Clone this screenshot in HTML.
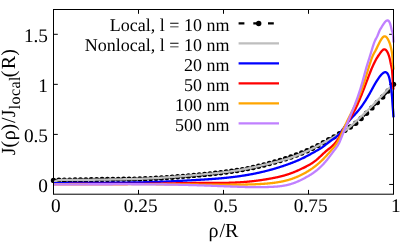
<!DOCTYPE html>
<html><head><meta charset="utf-8"><title>plot</title>
<style>
html,body{margin:0;padding:0;background:#fff;}
.t{font-family:"Liberation Serif",serif;text-rendering:geometricPrecision;}
body{width:407px;height:244px;overflow:hidden;position:relative;font-family:"Liberation Serif",serif;}
</style></head><body>
<svg width="407" height="244" viewBox="0 0 407 244" style="position:absolute;left:0;top:0;will-change:transform">
<rect x="0" y="0" width="407" height="244" fill="#fff"/>
<path d="M53.50,194.2 V189.89999999999998 M53.50,9.5 V13.8 M138.50,194.2 V189.89999999999998 M138.50,9.5 V13.8 M223.50,194.2 V189.89999999999998 M223.50,9.5 V13.8 M308.50,194.2 V189.89999999999998 M308.50,9.5 V13.8 M393.50,194.2 V189.89999999999998 M393.50,9.5 V13.8 M53.5,184.45 H57.8 M393.5,184.45 H389.2 M53.5,134.40 H57.8 M393.5,134.40 H389.2 M53.5,84.35 H57.8 M393.5,84.35 H389.2 M53.5,34.30 H57.8 M393.5,34.30 H389.2" stroke="#000" stroke-width="1" fill="none"/>
<path d="M53.50,180.40 L54.00,180.39 L54.50,180.37 L55.00,180.36 L55.50,180.34 L56.00,180.33 L56.50,180.32 L57.00,180.30 L57.50,180.29 L58.00,180.28 L58.50,180.26 L59.00,180.25 L59.50,180.24 L60.00,180.23 L60.50,180.22 L61.00,180.21 L61.50,180.20 L62.00,180.19 L62.50,180.18 L63.00,180.17 L63.50,180.16 L64.00,180.15 L64.50,180.14 L65.00,180.14 L65.50,180.13 L66.00,180.12 L66.50,180.12 L67.00,180.11 L67.50,180.11 L68.00,180.10 L68.50,180.10 L69.00,180.10 L69.50,180.09 L70.00,180.09 L70.50,180.09 L71.00,180.08 L71.50,180.08 L72.00,180.07 L72.50,180.07 L73.00,180.07 L73.50,180.06 L74.00,180.06 L74.50,180.05 L75.00,180.05 L75.50,180.04 L76.00,180.04 L76.50,180.03 L77.00,180.03 L77.50,180.02 L78.00,180.01 L78.50,180.01 L79.00,180.00 L79.50,179.99 L80.00,179.99 L80.50,179.98 L81.00,179.97 L81.50,179.96 L82.00,179.95 L82.50,179.94 L83.00,179.93 L83.50,179.93 L84.00,179.92 L84.50,179.91 L85.00,179.90 L85.50,179.89 L86.00,179.88 L86.50,179.87 L87.00,179.86 L87.50,179.85 L88.00,179.84 L88.50,179.83 L89.00,179.82 L89.50,179.81 L90.00,179.80 L90.50,179.79 L91.00,179.78 L91.50,179.76 L92.00,179.75 L92.50,179.74 L93.00,179.73 L93.50,179.72 L94.00,179.71 L94.50,179.70 L95.00,179.69 L95.50,179.68 L96.00,179.67 L96.50,179.66 L97.00,179.65 L97.50,179.64 L98.00,179.64 L98.50,179.63 L99.00,179.62 L99.50,179.61 L100.00,179.60 L100.50,179.59 L101.00,179.58 L101.50,179.58 L102.00,179.57 L102.50,179.56 L103.00,179.55 L103.50,179.55 L104.00,179.54 L104.50,179.53 L105.00,179.52 L105.50,179.52 L106.00,179.51 L106.50,179.50 L107.00,179.50 L107.50,179.49 L108.00,179.49 L108.50,179.48 L109.00,179.47 L109.50,179.47 L110.00,179.46 L110.50,179.46 L111.00,179.45 L111.50,179.44 L112.00,179.44 L112.50,179.43 L113.00,179.43 L113.50,179.42 L114.00,179.42 L114.50,179.41 L115.00,179.41 L115.50,179.40 L116.00,179.39 L116.50,179.39 L117.00,179.38 L117.50,179.38 L118.00,179.37 L118.50,179.37 L119.00,179.36 L119.50,179.36 L120.00,179.35 L120.50,179.34 L121.00,179.34 L121.50,179.33 L122.00,179.33 L122.50,179.32 L123.00,179.31 L123.50,179.31 L124.00,179.30 L124.50,179.29 L125.00,179.29 L125.50,179.28 L126.00,179.27 L126.50,179.26 L127.00,179.26 L127.50,179.25 L128.00,179.24 L128.50,179.23 L129.00,179.22 L129.50,179.22 L130.00,179.21 L130.50,179.20 L131.00,179.19 L131.50,179.18 L132.00,179.17 L132.50,179.16 L133.00,179.15 L133.50,179.14 L134.00,179.13 L134.50,179.12 L135.00,179.11 L135.50,179.10 L136.00,179.08 L136.50,179.07 L137.00,179.06 L137.50,179.05 L138.00,179.04 L138.50,179.02 L139.00,179.01 L139.50,178.99 L140.00,178.98 L140.50,178.97 L141.00,178.95 L141.50,178.94 L142.00,178.92 L142.50,178.90 L143.00,178.89 L143.50,178.87 L144.00,178.85 L144.50,178.84 L145.00,178.82 L145.50,178.80 L146.00,178.78 L146.50,178.76 L147.00,178.74 L147.50,178.72 L148.00,178.70 L148.50,178.68 L149.00,178.66 L149.50,178.64 L150.00,178.61 L150.50,178.59 L151.00,178.57 L151.50,178.54 L152.00,178.52 L152.50,178.49 L153.00,178.47 L153.50,178.44 L154.00,178.42 L154.50,178.39 L155.00,178.36 L155.50,178.34 L156.00,178.31 L156.50,178.28 L157.00,178.25 L157.50,178.22 L158.00,178.19 L158.50,178.17 L159.00,178.14 L159.50,178.10 L160.00,178.07 L160.50,178.04 L161.00,178.01 L161.50,177.98 L162.00,177.95 L162.50,177.92 L163.00,177.88 L163.50,177.85 L164.00,177.82 L164.50,177.78 L165.00,177.75 L165.50,177.71 L166.00,177.68 L166.50,177.65 L167.00,177.61 L167.50,177.57 L168.00,177.54 L168.50,177.50 L169.00,177.47 L169.50,177.43 L170.00,177.39 L170.50,177.36 L171.00,177.32 L171.50,177.28 L172.00,177.24 L172.50,177.20 L173.00,177.17 L173.50,177.13 L174.00,177.09 L174.50,177.05 L175.00,177.01 L175.50,176.97 L176.00,176.93 L176.50,176.89 L177.00,176.85 L177.50,176.81 L178.00,176.77 L178.50,176.73 L179.00,176.69 L179.50,176.64 L180.00,176.60 L180.50,176.56 L181.00,176.52 L181.50,176.48 L182.00,176.43 L182.50,176.39 L183.00,176.35 L183.50,176.31 L184.00,176.26 L184.50,176.22 L185.00,176.18 L185.50,176.13 L186.00,176.09 L186.50,176.05 L187.00,176.00 L187.50,175.96 L188.00,175.92 L188.50,175.87 L189.00,175.83 L189.50,175.78 L190.00,175.74 L190.50,175.69 L191.00,175.65 L191.50,175.61 L192.00,175.56 L192.50,175.52 L193.00,175.47 L193.50,175.43 L194.00,175.38 L194.50,175.34 L195.00,175.29 L195.50,175.25 L196.00,175.20 L196.50,175.15 L197.00,175.11 L197.50,175.06 L198.00,175.02 L198.50,174.97 L199.00,174.93 L199.50,174.88 L200.00,174.84 L200.50,174.79 L201.00,174.74 L201.50,174.70 L202.00,174.65 L202.50,174.60 L203.00,174.56 L203.50,174.51 L204.00,174.46 L204.50,174.42 L205.00,174.37 L205.50,174.32 L206.00,174.27 L206.50,174.23 L207.00,174.18 L207.50,174.13 L208.00,174.08 L208.50,174.03 L209.00,173.98 L209.50,173.93 L210.00,173.88 L210.50,173.83 L211.00,173.78 L211.50,173.73 L212.00,173.68 L212.50,173.63 L213.00,173.58 L213.50,173.52 L214.00,173.47 L214.50,173.42 L215.00,173.36 L215.50,173.31 L216.00,173.26 L216.50,173.20 L217.00,173.15 L217.50,173.09 L218.00,173.04 L218.50,172.98 L219.00,172.92 L219.50,172.86 L220.00,172.81 L220.50,172.75 L221.00,172.69 L221.50,172.63 L222.00,172.57 L222.50,172.51 L223.00,172.45 L223.50,172.39 L224.00,172.33 L224.50,172.27 L225.00,172.20 L225.50,172.14 L226.00,172.07 L226.50,172.01 L227.00,171.94 L227.50,171.88 L228.00,171.81 L228.50,171.74 L229.00,171.68 L229.50,171.61 L230.00,171.54 L230.50,171.47 L231.00,171.40 L231.50,171.33 L232.00,171.26 L232.50,171.18 L233.00,171.11 L233.50,171.04 L234.00,170.96 L234.50,170.89 L235.00,170.81 L235.50,170.73 L236.00,170.66 L236.50,170.58 L237.00,170.50 L237.50,170.42 L238.00,170.34 L238.50,170.25 L239.00,170.17 L239.50,170.09 L240.00,170.00 L240.50,169.92 L241.00,169.83 L241.50,169.75 L242.00,169.66 L242.50,169.57 L243.00,169.48 L243.50,169.39 L244.00,169.30 L244.50,169.21 L245.00,169.11 L245.50,169.02 L246.00,168.93 L246.50,168.83 L247.00,168.73 L247.50,168.64 L248.00,168.54 L248.50,168.44 L249.00,168.34 L249.50,168.24 L250.00,168.13 L250.50,168.03 L251.00,167.93 L251.50,167.82 L252.00,167.72 L252.50,167.61 L253.00,167.50 L253.50,167.39 L254.00,167.29 L254.50,167.18 L255.00,167.07 L255.50,166.95 L256.00,166.84 L256.50,166.73 L257.00,166.61 L257.50,166.50 L258.00,166.38 L258.50,166.27 L259.00,166.15 L259.50,166.03 L260.00,165.91 L260.50,165.79 L261.00,165.67 L261.50,165.55 L262.00,165.43 L262.50,165.30 L263.00,165.18 L263.50,165.06 L264.00,164.93 L264.50,164.80 L265.00,164.68 L265.50,164.55 L266.00,164.42 L266.50,164.29 L267.00,164.16 L267.50,164.03 L268.00,163.90 L268.50,163.77 L269.00,163.63 L269.50,163.50 L270.00,163.37 L270.50,163.23 L271.00,163.09 L271.50,162.96 L272.00,162.82 L272.50,162.68 L273.00,162.54 L273.50,162.40 L274.00,162.26 L274.50,162.12 L275.00,161.98 L275.50,161.83 L276.00,161.69 L276.50,161.54 L277.00,161.40 L277.50,161.25 L278.00,161.10 L278.50,160.96 L279.00,160.81 L279.50,160.66 L280.00,160.50 L280.50,160.35 L281.00,160.20 L281.50,160.05 L282.00,159.89 L282.50,159.74 L283.00,159.58 L283.50,159.42 L284.00,159.26 L284.50,159.10 L285.00,158.94 L285.50,158.78 L286.00,158.62 L286.50,158.46 L287.00,158.29 L287.50,158.13 L288.00,157.96 L288.50,157.80 L289.00,157.63 L289.50,157.46 L290.00,157.29 L290.50,157.12 L291.00,156.95 L291.50,156.77 L292.00,156.60 L292.50,156.43 L293.00,156.25 L293.50,156.07 L294.00,155.89 L294.50,155.71 L295.00,155.53 L295.50,155.35 L296.00,155.17 L296.50,154.99 L297.00,154.80 L297.50,154.61 L298.00,154.43 L298.50,154.24 L299.00,154.05 L299.50,153.86 L300.00,153.66 L300.50,153.47 L301.00,153.27 L301.50,153.08 L302.00,152.88 L302.50,152.68 L303.00,152.47 L303.50,152.27 L304.00,152.06 L304.50,151.86 L305.00,151.65 L305.50,151.44 L306.00,151.23 L306.50,151.01 L307.00,150.80 L307.50,150.58 L308.00,150.36 L308.50,150.14 L309.00,149.92 L309.50,149.70 L310.00,149.47 L310.50,149.24 L311.00,149.01 L311.50,148.78 L312.00,148.55 L312.50,148.31 L313.00,148.07 L313.50,147.83 L314.00,147.59 L314.50,147.35 L315.00,147.10 L315.50,146.85 L316.00,146.60 L316.50,146.35 L317.00,146.09 L317.50,145.83 L318.00,145.58 L318.50,145.32 L319.00,145.05 L319.50,144.79 L320.00,144.53 L320.50,144.26 L321.00,143.99 L321.50,143.72 L322.00,143.45 L322.50,143.18 L323.00,142.91 L323.50,142.64 L324.00,142.37 L324.50,142.10 L325.00,141.82 L325.50,141.55 L326.00,141.28 L326.50,141.00 L327.00,140.73 L327.50,140.46 L328.00,140.18 L328.50,139.91 L329.00,139.64 L329.50,139.36 L330.00,139.09 L330.50,138.82 L331.00,138.55 L331.50,138.28 L332.00,138.00 L332.50,137.73 L333.00,137.45 L333.50,137.18 L334.00,136.90 L334.50,136.62 L335.00,136.34 L335.50,136.06 L336.00,135.77 L336.50,135.49 L337.00,135.20 L337.50,134.90 L338.00,134.61 L338.50,134.31 L339.00,134.01 L339.50,133.70 L340.00,133.39 L340.50,133.08 L341.00,132.76 L341.50,132.45 L342.00,132.13 L342.50,131.81 L343.00,131.49 L343.50,131.18 L344.00,130.86 L344.50,130.55 L345.00,130.24 L345.50,129.93 L346.00,129.63 L346.50,129.32 L347.00,129.02 L347.50,128.72 L348.00,128.42 L348.50,128.12 L349.00,127.81 L349.50,127.50 L350.00,127.19 L350.50,126.87 L351.00,126.55 L351.50,126.22 L352.00,125.89 L352.50,125.55 L353.00,125.20 L353.50,124.85 L354.00,124.49 L354.50,124.12 L355.00,123.74 L355.50,123.36 L356.00,122.96 L356.50,122.56 L357.00,122.15 L357.50,121.73 L358.00,121.31 L358.50,120.88 L359.00,120.44 L359.50,119.99 L360.00,119.54 L360.50,119.08 L361.00,118.62 L361.50,118.16 L362.00,117.68 L362.50,117.21 L363.00,116.73 L363.50,116.25 L364.00,115.76 L364.50,115.27 L365.00,114.78 L365.50,114.29 L366.00,113.79 L366.50,113.30 L367.00,112.80 L367.50,112.30 L368.00,111.80 L368.50,111.30 L369.00,110.81 L369.50,110.31 L370.00,109.81 L370.50,109.31 L371.00,108.81 L371.50,108.31 L372.00,107.81 L372.50,107.31 L373.00,106.81 L373.50,106.31 L374.00,105.81 L374.50,105.31 L375.00,104.80 L375.50,104.30 L376.00,103.80 L376.50,103.30 L377.00,102.80 L377.50,102.30 L378.00,101.80 L378.50,101.30 L379.00,100.79 L379.50,100.29 L380.00,99.78 L380.50,99.28 L381.00,98.76 L381.50,98.25 L382.00,97.73 L382.50,97.21 L383.00,96.68 L383.50,96.15 L384.00,95.62 L384.50,95.07 L385.00,94.53 L385.50,93.98 L386.00,93.42 L386.50,92.85 L387.00,92.28 L387.50,91.70 L388.00,91.12 L388.50,90.53 L389.00,89.93 L389.50,89.32 L390.00,88.71 L390.50,88.10 L391.00,87.48 L391.50,86.86 L392.00,86.23 L392.50,85.61 L393.00,84.98 L393.50,84.35" fill="none" stroke="#000" stroke-width="2.3" stroke-dasharray="5.8 8.9"/>
<g fill="#000"><circle cx="53.50" cy="180.40" r="2.7"/><circle cx="58.90" cy="180.25" r="2.7"/><circle cx="64.29" cy="180.15" r="2.7"/><circle cx="69.69" cy="180.09" r="2.7"/><circle cx="75.09" cy="180.05" r="2.7"/><circle cx="80.48" cy="179.98" r="2.7"/><circle cx="85.88" cy="179.88" r="2.7"/><circle cx="91.28" cy="179.77" r="2.7"/><circle cx="96.67" cy="179.66" r="2.7"/><circle cx="102.07" cy="179.57" r="2.7"/><circle cx="107.47" cy="179.49" r="2.7"/><circle cx="112.87" cy="179.43" r="2.7"/><circle cx="118.26" cy="179.37" r="2.7"/><circle cx="123.66" cy="179.30" r="2.7"/><circle cx="129.06" cy="179.22" r="2.7"/><circle cx="134.45" cy="179.12" r="2.7"/><circle cx="139.85" cy="178.98" r="2.7"/><circle cx="145.25" cy="178.81" r="2.7"/><circle cx="150.64" cy="178.58" r="2.7"/><circle cx="156.04" cy="178.31" r="2.7"/><circle cx="161.44" cy="177.98" r="2.7"/><circle cx="166.83" cy="177.62" r="2.7"/><circle cx="172.23" cy="177.22" r="2.7"/><circle cx="177.63" cy="176.80" r="2.7"/><circle cx="183.02" cy="176.35" r="2.7"/><circle cx="188.42" cy="175.88" r="2.7"/><circle cx="193.82" cy="175.40" r="2.7"/><circle cx="199.21" cy="174.91" r="2.7"/><circle cx="204.61" cy="174.41" r="2.7"/><circle cx="210.01" cy="173.88" r="2.7"/><circle cx="215.40" cy="173.32" r="2.7"/><circle cx="220.80" cy="172.71" r="2.7"/><circle cx="226.20" cy="172.05" r="2.7"/><circle cx="231.60" cy="171.31" r="2.7"/><circle cx="236.99" cy="170.50" r="2.7"/><circle cx="242.39" cy="169.59" r="2.7"/><circle cx="247.79" cy="168.58" r="2.7"/><circle cx="253.18" cy="167.46" r="2.7"/><circle cx="258.58" cy="166.25" r="2.7"/><circle cx="263.98" cy="164.94" r="2.7"/><circle cx="269.37" cy="163.53" r="2.7"/><circle cx="274.77" cy="162.04" r="2.7"/><circle cx="280.17" cy="160.45" r="2.7"/><circle cx="285.56" cy="158.76" r="2.7"/><circle cx="290.96" cy="156.96" r="2.7"/><circle cx="296.36" cy="155.04" r="2.7"/><circle cx="301.75" cy="152.97" r="2.7"/><circle cx="307.15" cy="150.73" r="2.7"/><circle cx="312.55" cy="148.29" r="2.7"/><circle cx="317.94" cy="145.60" r="2.7"/><circle cx="323.34" cy="142.73" r="2.7"/><circle cx="328.74" cy="139.78" r="2.7"/><circle cx="334.13" cy="136.83" r="2.7"/><circle cx="339.53" cy="133.68" r="2.7"/><circle cx="344.93" cy="130.28" r="2.7"/><circle cx="350.33" cy="126.98" r="2.7"/><circle cx="355.72" cy="123.18" r="2.7"/><circle cx="361.12" cy="118.51" r="2.7"/><circle cx="366.52" cy="113.28" r="2.7"/><circle cx="371.91" cy="107.89" r="2.7"/><circle cx="377.31" cy="102.49" r="2.7"/><circle cx="382.71" cy="96.99" r="2.7"/><circle cx="388.10" cy="91.00" r="2.7"/><circle cx="393.50" cy="84.35" r="2.7"/></g>
<path d="M53.50,182.70 L54.00,182.29 L54.50,181.89 L55.00,181.52 L55.50,181.20 L56.00,180.93 L56.50,180.72 L57.00,180.54 L57.50,180.41 L58.00,180.30 L58.50,180.21 L59.00,180.15 L59.50,180.10 L60.00,180.06 L60.50,180.03 L61.00,180.00 L61.50,179.98 L62.00,179.96 L62.50,179.94 L63.00,179.92 L63.50,179.91 L64.00,179.90 L64.50,179.89 L65.00,179.88 L65.50,179.87 L66.00,179.87 L66.50,179.86 L67.00,179.86 L67.50,179.86 L68.00,179.86 L68.50,179.86 L69.00,179.86 L69.50,179.86 L70.00,179.86 L70.50,179.87 L71.00,179.87 L71.50,179.87 L72.00,179.88 L72.50,179.88 L73.00,179.89 L73.50,179.89 L74.00,179.89 L74.50,179.90 L75.00,179.90 L75.50,179.90 L76.00,179.90 L76.50,179.91 L77.00,179.91 L77.50,179.91 L78.00,179.91 L78.50,179.91 L79.00,179.91 L79.50,179.91 L80.00,179.91 L80.50,179.90 L81.00,179.90 L81.50,179.90 L82.00,179.90 L82.50,179.89 L83.00,179.89 L83.50,179.89 L84.00,179.88 L84.50,179.88 L85.00,179.87 L85.50,179.87 L86.00,179.86 L86.50,179.86 L87.00,179.85 L87.50,179.84 L88.00,179.84 L88.50,179.83 L89.00,179.82 L89.50,179.82 L90.00,179.81 L90.50,179.80 L91.00,179.80 L91.50,179.79 L92.00,179.78 L92.50,179.77 L93.00,179.76 L93.50,179.76 L94.00,179.75 L94.50,179.74 L95.00,179.73 L95.50,179.72 L96.00,179.72 L96.50,179.71 L97.00,179.70 L97.50,179.69 L98.00,179.68 L98.50,179.67 L99.00,179.67 L99.50,179.66 L100.00,179.65 L100.50,179.64 L101.00,179.63 L101.50,179.63 L102.00,179.62 L102.50,179.61 L103.00,179.60 L103.50,179.60 L104.00,179.59 L104.50,179.58 L105.00,179.57 L105.50,179.56 L106.00,179.56 L106.50,179.55 L107.00,179.54 L107.50,179.54 L108.00,179.53 L108.50,179.52 L109.00,179.51 L109.50,179.51 L110.00,179.50 L110.50,179.49 L111.00,179.48 L111.50,179.47 L112.00,179.47 L112.50,179.46 L113.00,179.45 L113.50,179.44 L114.00,179.44 L114.50,179.43 L115.00,179.42 L115.50,179.41 L116.00,179.40 L116.50,179.40 L117.00,179.39 L117.50,179.38 L118.00,179.37 L118.50,179.36 L119.00,179.35 L119.50,179.34 L120.00,179.34 L120.50,179.33 L121.00,179.32 L121.50,179.31 L122.00,179.30 L122.50,179.29 L123.00,179.28 L123.50,179.27 L124.00,179.26 L124.50,179.25 L125.00,179.24 L125.50,179.23 L126.00,179.22 L126.50,179.21 L127.00,179.20 L127.50,179.18 L128.00,179.17 L128.50,179.16 L129.00,179.15 L129.50,179.14 L130.00,179.13 L130.50,179.11 L131.00,179.10 L131.50,179.09 L132.00,179.07 L132.50,179.06 L133.00,179.05 L133.50,179.03 L134.00,179.02 L134.50,179.00 L135.00,178.99 L135.50,178.98 L136.00,178.96 L136.50,178.94 L137.00,178.93 L137.50,178.91 L138.00,178.90 L138.50,178.88 L139.00,178.86 L139.50,178.85 L140.00,178.83 L140.50,178.81 L141.00,178.79 L141.50,178.77 L142.00,178.75 L142.50,178.73 L143.00,178.72 L143.50,178.70 L144.00,178.68 L144.50,178.65 L145.00,178.63 L145.50,178.61 L146.00,178.59 L146.50,178.57 L147.00,178.55 L147.50,178.52 L148.00,178.50 L148.50,178.48 L149.00,178.45 L149.50,178.43 L150.00,178.40 L150.50,178.38 L151.00,178.35 L151.50,178.33 L152.00,178.30 L152.50,178.27 L153.00,178.25 L153.50,178.22 L154.00,178.19 L154.50,178.16 L155.00,178.13 L155.50,178.11 L156.00,178.08 L156.50,178.05 L157.00,178.02 L157.50,177.99 L158.00,177.96 L158.50,177.93 L159.00,177.90 L159.50,177.86 L160.00,177.83 L160.50,177.80 L161.00,177.77 L161.50,177.74 L162.00,177.70 L162.50,177.67 L163.00,177.64 L163.50,177.60 L164.00,177.57 L164.50,177.53 L165.00,177.50 L165.50,177.47 L166.00,177.43 L166.50,177.40 L167.00,177.36 L167.50,177.32 L168.00,177.29 L168.50,177.25 L169.00,177.21 L169.50,177.18 L170.00,177.14 L170.50,177.10 L171.00,177.07 L171.50,177.03 L172.00,176.99 L172.50,176.95 L173.00,176.91 L173.50,176.88 L174.00,176.84 L174.50,176.80 L175.00,176.76 L175.50,176.72 L176.00,176.68 L176.50,176.64 L177.00,176.60 L177.50,176.56 L178.00,176.52 L178.50,176.48 L179.00,176.44 L179.50,176.40 L180.00,176.36 L180.50,176.32 L181.00,176.28 L181.50,176.24 L182.00,176.20 L182.50,176.15 L183.00,176.11 L183.50,176.07 L184.00,176.03 L184.50,175.99 L185.00,175.95 L185.50,175.90 L186.00,175.86 L186.50,175.82 L187.00,175.78 L187.50,175.73 L188.00,175.69 L188.50,175.65 L189.00,175.61 L189.50,175.56 L190.00,175.52 L190.50,175.48 L191.00,175.43 L191.50,175.39 L192.00,175.35 L192.50,175.30 L193.00,175.26 L193.50,175.22 L194.00,175.17 L194.50,175.13 L195.00,175.09 L195.50,175.04 L196.00,175.00 L196.50,174.96 L197.00,174.91 L197.50,174.87 L198.00,174.83 L198.50,174.78 L199.00,174.74 L199.50,174.69 L200.00,174.65 L200.50,174.61 L201.00,174.56 L201.50,174.52 L202.00,174.47 L202.50,174.43 L203.00,174.38 L203.50,174.34 L204.00,174.29 L204.50,174.25 L205.00,174.20 L205.50,174.16 L206.00,174.11 L206.50,174.06 L207.00,174.02 L207.50,173.97 L208.00,173.92 L208.50,173.88 L209.00,173.83 L209.50,173.78 L210.00,173.73 L210.50,173.69 L211.00,173.64 L211.50,173.59 L212.00,173.54 L212.50,173.49 L213.00,173.44 L213.50,173.39 L214.00,173.34 L214.50,173.29 L215.00,173.23 L215.50,173.18 L216.00,173.13 L216.50,173.08 L217.00,173.02 L217.50,172.97 L218.00,172.92 L218.50,172.86 L219.00,172.81 L219.50,172.75 L220.00,172.69 L220.50,172.64 L221.00,172.58 L221.50,172.52 L222.00,172.46 L222.50,172.41 L223.00,172.35 L223.50,172.29 L224.00,172.22 L224.50,172.16 L225.00,172.10 L225.50,172.04 L226.00,171.98 L226.50,171.91 L227.00,171.85 L227.50,171.78 L228.00,171.72 L228.50,171.65 L229.00,171.58 L229.50,171.52 L230.00,171.45 L230.50,171.38 L231.00,171.31 L231.50,171.24 L232.00,171.17 L232.50,171.09 L233.00,171.02 L233.50,170.95 L234.00,170.87 L234.50,170.80 L235.00,170.72 L235.50,170.64 L236.00,170.57 L236.50,170.49 L237.00,170.41 L237.50,170.33 L238.00,170.25 L238.50,170.16 L239.00,170.08 L239.50,170.00 L240.00,169.91 L240.50,169.83 L241.00,169.74 L241.50,169.65 L242.00,169.56 L242.50,169.47 L243.00,169.38 L243.50,169.29 L244.00,169.20 L244.50,169.11 L245.00,169.01 L245.50,168.92 L246.00,168.82 L246.50,168.72 L247.00,168.62 L247.50,168.53 L248.00,168.42 L248.50,168.32 L249.00,168.22 L249.50,168.12 L250.00,168.02 L250.50,167.91 L251.00,167.81 L251.50,167.70 L252.00,167.59 L252.50,167.49 L253.00,167.38 L253.50,167.27 L254.00,167.16 L254.50,167.05 L255.00,166.94 L255.50,166.83 L256.00,166.72 L256.50,166.61 L257.00,166.49 L257.50,166.38 L258.00,166.26 L258.50,166.15 L259.00,166.03 L259.50,165.92 L260.00,165.80 L260.50,165.69 L261.00,165.57 L261.50,165.45 L262.00,165.34 L262.50,165.22 L263.00,165.10 L263.50,164.98 L264.00,164.86 L264.50,164.74 L265.00,164.62 L265.50,164.50 L266.00,164.38 L266.50,164.26 L267.00,164.14 L267.50,164.02 L268.00,163.90 L268.50,163.78 L269.00,163.66 L269.50,163.54 L270.00,163.41 L270.50,163.29 L271.00,163.17 L271.50,163.05 L272.00,162.92 L272.50,162.80 L273.00,162.68 L273.50,162.55 L274.00,162.43 L274.50,162.30 L275.00,162.17 L275.50,162.05 L276.00,161.92 L276.50,161.79 L277.00,161.66 L277.50,161.53 L278.00,161.40 L278.50,161.27 L279.00,161.13 L279.50,161.00 L280.00,160.86 L280.50,160.73 L281.00,160.59 L281.50,160.45 L282.00,160.31 L282.50,160.17 L283.00,160.03 L283.50,159.88 L284.00,159.74 L284.50,159.59 L285.00,159.44 L285.50,159.29 L286.00,159.14 L286.50,158.99 L287.00,158.84 L287.50,158.68 L288.00,158.52 L288.50,158.36 L289.00,158.20 L289.50,158.04 L290.00,157.88 L290.50,157.71 L291.00,157.54 L291.50,157.37 L292.00,157.20 L292.50,157.03 L293.00,156.85 L293.50,156.67 L294.00,156.49 L294.50,156.31 L295.00,156.13 L295.50,155.94 L296.00,155.75 L296.50,155.56 L297.00,155.37 L297.50,155.18 L298.00,154.98 L298.50,154.78 L299.00,154.59 L299.50,154.38 L300.00,154.18 L300.50,153.98 L301.00,153.77 L301.50,153.56 L302.00,153.35 L302.50,153.14 L303.00,152.93 L303.50,152.71 L304.00,152.49 L304.50,152.28 L305.00,152.05 L305.50,151.83 L306.00,151.61 L306.50,151.38 L307.00,151.16 L307.50,150.93 L308.00,150.70 L308.50,150.46 L309.00,150.23 L309.50,150.00 L310.00,149.76 L310.50,149.52 L311.00,149.28 L311.50,149.04 L312.00,148.80 L312.50,148.55 L313.00,148.30 L313.50,148.06 L314.00,147.81 L314.50,147.56 L315.00,147.30 L315.50,147.05 L316.00,146.80 L316.50,146.54 L317.00,146.28 L317.50,146.02 L318.00,145.76 L318.50,145.50 L319.00,145.24 L319.50,144.97 L320.00,144.71 L320.50,144.44 L321.00,144.18 L321.50,143.91 L322.00,143.64 L322.50,143.37 L323.00,143.10 L323.50,142.83 L324.00,142.56 L324.50,142.29 L325.00,142.02 L325.50,141.75 L326.00,141.48 L326.50,141.20 L327.00,140.93 L327.50,140.66 L328.00,140.38 L328.50,140.11 L329.00,139.84 L329.50,139.56 L330.00,139.29 L330.50,139.02 L331.00,138.74 L331.50,138.47 L332.00,138.19 L332.50,137.92 L333.00,137.64 L333.50,137.37 L334.00,137.09 L334.50,136.81 L335.00,136.54 L335.50,136.26 L336.00,135.98 L336.50,135.70 L337.00,135.42 L337.50,135.14 L338.00,134.85 L338.50,134.57 L339.00,134.29 L339.50,134.00 L340.00,133.71 L340.50,133.42 L341.00,133.13 L341.50,132.84 L342.00,132.54 L342.50,132.23 L343.00,131.92 L343.50,131.60 L344.00,131.28 L344.50,130.94 L345.00,130.60 L345.50,130.25 L346.00,129.89 L346.50,129.51 L347.00,129.13 L347.50,128.75 L348.00,128.35 L348.50,127.95 L349.00,127.54 L349.50,127.12 L350.00,126.70 L350.50,126.27 L351.00,125.84 L351.50,125.40 L352.00,124.96 L352.50,124.52 L353.00,124.07 L353.50,123.62 L354.00,123.16 L354.50,122.71 L355.00,122.25 L355.50,121.79 L356.00,121.33 L356.50,120.87 L357.00,120.41 L357.50,119.95 L358.00,119.49 L358.50,119.03 L359.00,118.56 L359.50,118.10 L360.00,117.64 L360.50,117.17 L361.00,116.70 L361.50,116.23 L362.00,115.76 L362.50,115.29 L363.00,114.82 L363.50,114.35 L364.00,113.87 L364.50,113.40 L365.00,112.92 L365.50,112.44 L366.00,111.96 L366.50,111.47 L367.00,110.99 L367.50,110.50 L368.00,110.01 L368.50,109.52 L369.00,109.03 L369.50,108.53 L370.00,108.04 L370.50,107.53 L371.00,107.03 L371.50,106.52 L372.00,106.00 L372.50,105.48 L373.00,104.96 L373.50,104.44 L374.00,103.91 L374.50,103.39 L375.00,102.86 L375.50,102.34 L376.00,101.82 L376.50,101.31 L377.00,100.80 L377.50,100.30 L378.00,99.80 L378.50,99.31 L379.00,98.81 L379.50,98.31 L380.00,97.81 L380.50,97.30 L381.00,96.79 L381.50,96.26 L382.00,95.73 L382.50,95.19 L383.00,94.66 L383.50,94.12 L384.00,93.59 L384.50,93.06 L385.00,92.53 L385.50,91.99 L386.00,91.46 L386.50,90.92 L387.00,90.37 L387.50,89.83 L388.00,89.30 L388.50,88.81 L389.00,88.36 L389.50,87.94 L390.00,87.55 L390.50,87.39 L391.00,87.95 L391.50,90.21 L392.00,95.42 L392.50,102.45 L393.00,109.71 L393.50,117.00" fill="none" stroke="#bebebe" stroke-width="2.3" stroke-linejoin="round" stroke-linecap="butt"/>
<path d="M53.50,183.05 L54.00,183.05 L54.50,183.05 L55.00,183.05 L55.50,183.05 L56.00,183.05 L56.50,183.05 L57.00,183.04 L57.50,183.04 L58.00,183.04 L58.50,183.04 L59.00,183.04 L59.50,183.04 L60.00,183.04 L60.50,183.04 L61.00,183.04 L61.50,183.04 L62.00,183.04 L62.50,183.04 L63.00,183.03 L63.50,183.03 L64.00,183.03 L64.50,183.03 L65.00,183.03 L65.50,183.03 L66.00,183.03 L66.50,183.03 L67.00,183.03 L67.50,183.02 L68.00,183.02 L68.50,183.02 L69.00,183.02 L69.50,183.02 L70.00,183.02 L70.50,183.02 L71.00,183.01 L71.50,183.01 L72.00,183.01 L72.50,183.01 L73.00,183.01 L73.50,183.01 L74.00,183.00 L74.50,183.00 L75.00,183.00 L75.50,183.00 L76.00,183.00 L76.50,182.99 L77.00,182.99 L77.50,182.99 L78.00,182.99 L78.50,182.98 L79.00,182.98 L79.50,182.98 L80.00,182.98 L80.50,182.98 L81.00,182.97 L81.50,182.97 L82.00,182.97 L82.50,182.96 L83.00,182.96 L83.50,182.96 L84.00,182.96 L84.50,182.95 L85.00,182.95 L85.50,182.95 L86.00,182.94 L86.50,182.94 L87.00,182.94 L87.50,182.94 L88.00,182.93 L88.50,182.93 L89.00,182.93 L89.50,182.92 L90.00,182.92 L90.50,182.92 L91.00,182.91 L91.50,182.91 L92.00,182.91 L92.50,182.90 L93.00,182.90 L93.50,182.90 L94.00,182.89 L94.50,182.89 L95.00,182.89 L95.50,182.88 L96.00,182.88 L96.50,182.88 L97.00,182.87 L97.50,182.87 L98.00,182.86 L98.50,182.86 L99.00,182.86 L99.50,182.85 L100.00,182.85 L100.50,182.85 L101.00,182.84 L101.50,182.84 L102.00,182.84 L102.50,182.83 L103.00,182.83 L103.50,182.82 L104.00,182.82 L104.50,182.82 L105.00,182.81 L105.50,182.81 L106.00,182.81 L106.50,182.80 L107.00,182.80 L107.50,182.79 L108.00,182.79 L108.50,182.79 L109.00,182.78 L109.50,182.78 L110.00,182.77 L110.50,182.77 L111.00,182.76 L111.50,182.76 L112.00,182.76 L112.50,182.75 L113.00,182.75 L113.50,182.74 L114.00,182.74 L114.50,182.73 L115.00,182.73 L115.50,182.72 L116.00,182.72 L116.50,182.71 L117.00,182.71 L117.50,182.70 L118.00,182.70 L118.50,182.69 L119.00,182.69 L119.50,182.68 L120.00,182.68 L120.50,182.67 L121.00,182.66 L121.50,182.66 L122.00,182.65 L122.50,182.65 L123.00,182.64 L123.50,182.63 L124.00,182.63 L124.50,182.62 L125.00,182.61 L125.50,182.61 L126.00,182.60 L126.50,182.59 L127.00,182.59 L127.50,182.58 L128.00,182.57 L128.50,182.56 L129.00,182.56 L129.50,182.55 L130.00,182.54 L130.50,182.53 L131.00,182.52 L131.50,182.52 L132.00,182.51 L132.50,182.50 L133.00,182.49 L133.50,182.48 L134.00,182.47 L134.50,182.46 L135.00,182.45 L135.50,182.44 L136.00,182.44 L136.50,182.43 L137.00,182.42 L137.50,182.41 L138.00,182.39 L138.50,182.38 L139.00,182.37 L139.50,182.36 L140.00,182.35 L140.50,182.34 L141.00,182.33 L141.50,182.32 L142.00,182.31 L142.50,182.29 L143.00,182.28 L143.50,182.27 L144.00,182.26 L144.50,182.24 L145.00,182.23 L145.50,182.22 L146.00,182.21 L146.50,182.19 L147.00,182.18 L147.50,182.16 L148.00,182.15 L148.50,182.14 L149.00,182.12 L149.50,182.11 L150.00,182.09 L150.50,182.08 L151.00,182.06 L151.50,182.05 L152.00,182.03 L152.50,182.01 L153.00,182.00 L153.50,181.98 L154.00,181.96 L154.50,181.95 L155.00,181.93 L155.50,181.91 L156.00,181.90 L156.50,181.88 L157.00,181.86 L157.50,181.84 L158.00,181.82 L158.50,181.81 L159.00,181.79 L159.50,181.77 L160.00,181.75 L160.50,181.73 L161.00,181.71 L161.50,181.69 L162.00,181.67 L162.50,181.65 L163.00,181.63 L163.50,181.61 L164.00,181.59 L164.50,181.57 L165.00,181.55 L165.50,181.53 L166.00,181.51 L166.50,181.49 L167.00,181.47 L167.50,181.45 L168.00,181.43 L168.50,181.40 L169.00,181.38 L169.50,181.36 L170.00,181.34 L170.50,181.32 L171.00,181.29 L171.50,181.27 L172.00,181.25 L172.50,181.22 L173.00,181.20 L173.50,181.18 L174.00,181.15 L174.50,181.13 L175.00,181.11 L175.50,181.08 L176.00,181.06 L176.50,181.04 L177.00,181.01 L177.50,180.99 L178.00,180.96 L178.50,180.94 L179.00,180.91 L179.50,180.89 L180.00,180.86 L180.50,180.84 L181.00,180.81 L181.50,180.79 L182.00,180.76 L182.50,180.74 L183.00,180.71 L183.50,180.68 L184.00,180.66 L184.50,180.63 L185.00,180.61 L185.50,180.58 L186.00,180.55 L186.50,180.53 L187.00,180.50 L187.50,180.47 L188.00,180.45 L188.50,180.42 L189.00,180.39 L189.50,180.36 L190.00,180.34 L190.50,180.31 L191.00,180.28 L191.50,180.25 L192.00,180.23 L192.50,180.20 L193.00,180.17 L193.50,180.14 L194.00,180.11 L194.50,180.09 L195.00,180.06 L195.50,180.03 L196.00,180.00 L196.50,179.97 L197.00,179.94 L197.50,179.91 L198.00,179.88 L198.50,179.86 L199.00,179.83 L199.50,179.80 L200.00,179.77 L200.50,179.74 L201.00,179.71 L201.50,179.68 L202.00,179.65 L202.50,179.62 L203.00,179.59 L203.50,179.56 L204.00,179.53 L204.50,179.49 L205.00,179.46 L205.50,179.43 L206.00,179.40 L206.50,179.37 L207.00,179.33 L207.50,179.30 L208.00,179.27 L208.50,179.23 L209.00,179.20 L209.50,179.17 L210.00,179.13 L210.50,179.10 L211.00,179.06 L211.50,179.03 L212.00,178.99 L212.50,178.95 L213.00,178.92 L213.50,178.88 L214.00,178.84 L214.50,178.81 L215.00,178.77 L215.50,178.73 L216.00,178.69 L216.50,178.65 L217.00,178.61 L217.50,178.57 L218.00,178.53 L218.50,178.49 L219.00,178.44 L219.50,178.40 L220.00,178.36 L220.50,178.32 L221.00,178.27 L221.50,178.23 L222.00,178.18 L222.50,178.14 L223.00,178.09 L223.50,178.04 L224.00,177.99 L224.50,177.95 L225.00,177.90 L225.50,177.85 L226.00,177.80 L226.50,177.75 L227.00,177.70 L227.50,177.64 L228.00,177.59 L228.50,177.54 L229.00,177.48 L229.50,177.43 L230.00,177.37 L230.50,177.32 L231.00,177.26 L231.50,177.20 L232.00,177.15 L232.50,177.09 L233.00,177.03 L233.50,176.97 L234.00,176.90 L234.50,176.84 L235.00,176.78 L235.50,176.72 L236.00,176.65 L236.50,176.59 L237.00,176.52 L237.50,176.45 L238.00,176.38 L238.50,176.32 L239.00,176.25 L239.50,176.18 L240.00,176.10 L240.50,176.03 L241.00,175.96 L241.50,175.88 L242.00,175.81 L242.50,175.73 L243.00,175.66 L243.50,175.58 L244.00,175.50 L244.50,175.42 L245.00,175.34 L245.50,175.26 L246.00,175.17 L246.50,175.09 L247.00,175.01 L247.50,174.92 L248.00,174.83 L248.50,174.75 L249.00,174.66 L249.50,174.57 L250.00,174.48 L250.50,174.39 L251.00,174.29 L251.50,174.20 L252.00,174.10 L252.50,174.01 L253.00,173.91 L253.50,173.81 L254.00,173.71 L254.50,173.61 L255.00,173.51 L255.50,173.41 L256.00,173.31 L256.50,173.20 L257.00,173.10 L257.50,172.99 L258.00,172.88 L258.50,172.78 L259.00,172.67 L259.50,172.55 L260.00,172.44 L260.50,172.33 L261.00,172.22 L261.50,172.10 L262.00,171.98 L262.50,171.87 L263.00,171.75 L263.50,171.63 L264.00,171.51 L264.50,171.39 L265.00,171.26 L265.50,171.14 L266.00,171.01 L266.50,170.89 L267.00,170.76 L267.50,170.63 L268.00,170.50 L268.50,170.37 L269.00,170.24 L269.50,170.10 L270.00,169.97 L270.50,169.83 L271.00,169.70 L271.50,169.56 L272.00,169.42 L272.50,169.28 L273.00,169.13 L273.50,168.99 L274.00,168.85 L274.50,168.70 L275.00,168.55 L275.50,168.41 L276.00,168.26 L276.50,168.11 L277.00,167.96 L277.50,167.80 L278.00,167.65 L278.50,167.49 L279.00,167.34 L279.50,167.18 L280.00,167.02 L280.50,166.86 L281.00,166.70 L281.50,166.53 L282.00,166.37 L282.50,166.20 L283.00,166.04 L283.50,165.87 L284.00,165.70 L284.50,165.53 L285.00,165.35 L285.50,165.18 L286.00,165.01 L286.50,164.83 L287.00,164.65 L287.50,164.47 L288.00,164.29 L288.50,164.11 L289.00,163.93 L289.50,163.74 L290.00,163.56 L290.50,163.37 L291.00,163.18 L291.50,162.99 L292.00,162.80 L292.50,162.61 L293.00,162.41 L293.50,162.22 L294.00,162.02 L294.50,161.82 L295.00,161.62 L295.50,161.42 L296.00,161.21 L296.50,161.01 L297.00,160.80 L297.50,160.59 L298.00,160.37 L298.50,160.16 L299.00,159.94 L299.50,159.72 L300.00,159.49 L300.50,159.27 L301.00,159.04 L301.50,158.81 L302.00,158.57 L302.50,158.33 L303.00,158.09 L303.50,157.85 L304.00,157.60 L304.50,157.35 L305.00,157.10 L305.50,156.84 L306.00,156.58 L306.50,156.32 L307.00,156.05 L307.50,155.79 L308.00,155.52 L308.50,155.25 L309.00,154.97 L309.50,154.70 L310.00,154.42 L310.50,154.15 L311.00,153.87 L311.50,153.59 L312.00,153.31 L312.50,153.03 L313.00,152.75 L313.50,152.47 L314.00,152.19 L314.50,151.91 L315.00,151.63 L315.50,151.36 L316.00,151.08 L316.50,150.80 L317.00,150.52 L317.50,150.24 L318.00,149.95 L318.50,149.67 L319.00,149.37 L319.50,149.07 L320.00,148.77 L320.50,148.45 L321.00,148.13 L321.50,147.80 L322.00,147.46 L322.50,147.11 L323.00,146.74 L323.50,146.38 L324.00,146.00 L324.50,145.62 L325.00,145.23 L325.50,144.85 L326.00,144.45 L326.50,144.06 L327.00,143.67 L327.50,143.28 L328.00,142.88 L328.50,142.50 L329.00,142.11 L329.50,141.73 L330.00,141.36 L330.50,140.99 L331.00,140.63 L331.50,140.28 L332.00,139.93 L332.50,139.59 L333.00,139.24 L333.50,138.90 L334.00,138.55 L334.50,138.19 L335.00,137.82 L335.50,137.44 L336.00,137.05 L336.50,136.64 L337.00,136.20 L337.50,135.75 L338.00,135.27 L338.50,134.76 L339.00,134.22 L339.50,133.65 L340.00,133.05 L340.50,132.42 L341.00,131.77 L341.50,131.10 L342.00,130.42 L342.50,129.72 L343.00,129.02 L343.50,128.32 L344.00,127.62 L344.50,126.93 L345.00,126.24 L345.50,125.56 L346.00,124.88 L346.50,124.22 L347.00,123.56 L347.50,122.92 L348.00,122.28 L348.50,121.65 L349.00,121.04 L349.50,120.44 L350.00,119.85 L350.50,119.27 L351.00,118.71 L351.50,118.15 L352.00,117.60 L352.50,117.05 L353.00,116.51 L353.50,115.97 L354.00,115.44 L354.50,114.90 L355.00,114.36 L355.50,113.81 L356.00,113.26 L356.50,112.70 L357.00,112.13 L357.50,111.55 L358.00,110.97 L358.50,110.37 L359.00,109.76 L359.50,109.14 L360.00,108.51 L360.50,107.86 L361.00,107.20 L361.50,106.52 L362.00,105.83 L362.50,105.12 L363.00,104.40 L363.50,103.66 L364.00,102.91 L364.50,102.15 L365.00,101.37 L365.50,100.59 L366.00,99.78 L366.50,98.97 L367.00,98.14 L367.50,97.30 L368.00,96.46 L368.50,95.60 L369.00,94.73 L369.50,93.84 L370.00,92.95 L370.50,92.05 L371.00,91.14 L371.50,90.23 L372.00,89.30 L372.50,88.37 L373.00,87.43 L373.50,86.51 L374.00,85.60 L374.50,84.72 L375.00,83.85 L375.50,83.01 L376.00,82.20 L376.50,81.39 L377.00,80.61 L377.50,79.84 L378.00,79.09 L378.50,78.35 L379.00,77.64 L379.50,76.95 L380.00,76.29 L380.50,75.66 L381.00,75.07 L381.50,74.51 L382.00,73.99 L382.50,73.53 L383.00,73.13 L383.50,72.79 L384.00,72.52 L384.50,72.33 L385.00,72.22 L385.50,72.21 L386.00,72.30 L386.50,72.53 L387.00,72.94 L387.50,73.55 L388.00,74.39 L388.50,75.50 L389.00,76.95 L389.50,78.81 L390.00,81.18 L390.50,83.94 L391.00,86.90 L391.50,90.68 L392.00,96.05 L392.50,102.60 L393.00,109.80 L393.50,117.30" fill="none" stroke="#0000ff" stroke-width="2.3" stroke-linejoin="round" stroke-linecap="butt"/>
<path d="M53.50,184.05 L54.00,184.05 L54.50,184.05 L55.00,184.05 L55.50,184.05 L56.00,184.05 L56.50,184.05 L57.00,184.04 L57.50,184.04 L58.00,184.04 L58.50,184.04 L59.00,184.04 L59.50,184.04 L60.00,184.04 L60.50,184.04 L61.00,184.04 L61.50,184.04 L62.00,184.04 L62.50,184.04 L63.00,184.03 L63.50,184.03 L64.00,184.03 L64.50,184.03 L65.00,184.03 L65.50,184.03 L66.00,184.03 L66.50,184.03 L67.00,184.03 L67.50,184.03 L68.00,184.03 L68.50,184.03 L69.00,184.03 L69.50,184.02 L70.00,184.02 L70.50,184.02 L71.00,184.02 L71.50,184.02 L72.00,184.02 L72.50,184.02 L73.00,184.02 L73.50,184.02 L74.00,184.02 L74.50,184.02 L75.00,184.02 L75.50,184.02 L76.00,184.02 L76.50,184.02 L77.00,184.01 L77.50,184.01 L78.00,184.01 L78.50,184.01 L79.00,184.01 L79.50,184.01 L80.00,184.01 L80.50,184.01 L81.00,184.01 L81.50,184.01 L82.00,184.01 L82.50,184.01 L83.00,184.01 L83.50,184.01 L84.00,184.01 L84.50,184.01 L85.00,184.01 L85.50,184.01 L86.00,184.01 L86.50,184.01 L87.00,184.00 L87.50,184.00 L88.00,184.00 L88.50,184.00 L89.00,184.00 L89.50,184.00 L90.00,184.00 L90.50,184.00 L91.00,184.00 L91.50,184.00 L92.00,184.00 L92.50,184.00 L93.00,184.00 L93.50,184.00 L94.00,184.00 L94.50,184.00 L95.00,184.00 L95.50,184.00 L96.00,184.00 L96.50,184.00 L97.00,184.00 L97.50,184.00 L98.00,184.00 L98.50,184.00 L99.00,184.00 L99.50,184.00 L100.00,184.00 L100.50,184.00 L101.00,184.00 L101.50,184.00 L102.00,184.00 L102.50,184.00 L103.00,184.00 L103.50,184.00 L104.00,184.00 L104.50,184.00 L105.00,184.00 L105.50,184.00 L106.00,184.00 L106.50,184.00 L107.00,184.00 L107.50,184.00 L108.00,184.00 L108.50,184.00 L109.00,184.00 L109.50,184.00 L110.00,184.00 L110.50,184.00 L111.00,184.00 L111.50,184.00 L112.00,184.00 L112.50,184.00 L113.00,184.00 L113.50,184.00 L114.00,184.00 L114.50,184.00 L115.00,184.00 L115.50,184.00 L116.00,184.00 L116.50,184.00 L117.00,184.00 L117.50,184.00 L118.00,184.00 L118.50,184.00 L119.00,184.00 L119.50,184.00 L120.00,183.99 L120.50,183.99 L121.00,183.99 L121.50,183.99 L122.00,183.99 L122.50,183.99 L123.00,183.99 L123.50,183.99 L124.00,183.99 L124.50,183.99 L125.00,183.98 L125.50,183.98 L126.00,183.98 L126.50,183.98 L127.00,183.98 L127.50,183.98 L128.00,183.97 L128.50,183.97 L129.00,183.97 L129.50,183.97 L130.00,183.96 L130.50,183.96 L131.00,183.96 L131.50,183.96 L132.00,183.95 L132.50,183.95 L133.00,183.95 L133.50,183.95 L134.00,183.94 L134.50,183.94 L135.00,183.94 L135.50,183.93 L136.00,183.93 L136.50,183.92 L137.00,183.92 L137.50,183.92 L138.00,183.91 L138.50,183.91 L139.00,183.90 L139.50,183.90 L140.00,183.89 L140.50,183.89 L141.00,183.88 L141.50,183.88 L142.00,183.87 L142.50,183.87 L143.00,183.86 L143.50,183.86 L144.00,183.85 L144.50,183.85 L145.00,183.84 L145.50,183.83 L146.00,183.83 L146.50,183.82 L147.00,183.81 L147.50,183.81 L148.00,183.80 L148.50,183.79 L149.00,183.79 L149.50,183.78 L150.00,183.77 L150.50,183.76 L151.00,183.75 L151.50,183.75 L152.00,183.74 L152.50,183.73 L153.00,183.72 L153.50,183.71 L154.00,183.70 L154.50,183.69 L155.00,183.69 L155.50,183.68 L156.00,183.67 L156.50,183.66 L157.00,183.65 L157.50,183.64 L158.00,183.63 L158.50,183.62 L159.00,183.61 L159.50,183.60 L160.00,183.59 L160.50,183.58 L161.00,183.57 L161.50,183.56 L162.00,183.55 L162.50,183.54 L163.00,183.53 L163.50,183.52 L164.00,183.51 L164.50,183.50 L165.00,183.49 L165.50,183.48 L166.00,183.47 L166.50,183.46 L167.00,183.45 L167.50,183.44 L168.00,183.43 L168.50,183.42 L169.00,183.41 L169.50,183.40 L170.00,183.39 L170.50,183.37 L171.00,183.36 L171.50,183.35 L172.00,183.34 L172.50,183.33 L173.00,183.32 L173.50,183.31 L174.00,183.30 L174.50,183.29 L175.00,183.29 L175.50,183.28 L176.00,183.27 L176.50,183.26 L177.00,183.25 L177.50,183.24 L178.00,183.23 L178.50,183.22 L179.00,183.21 L179.50,183.20 L180.00,183.19 L180.50,183.18 L181.00,183.18 L181.50,183.17 L182.00,183.16 L182.50,183.15 L183.00,183.14 L183.50,183.13 L184.00,183.13 L184.50,183.12 L185.00,183.11 L185.50,183.11 L186.00,183.10 L186.50,183.09 L187.00,183.08 L187.50,183.08 L188.00,183.07 L188.50,183.07 L189.00,183.06 L189.50,183.05 L190.00,183.05 L190.50,183.04 L191.00,183.04 L191.50,183.03 L192.00,183.03 L192.50,183.02 L193.00,183.02 L193.50,183.02 L194.00,183.01 L194.50,183.01 L195.00,183.01 L195.50,183.00 L196.00,183.00 L196.50,183.00 L197.00,183.00 L197.50,182.99 L198.00,182.99 L198.50,182.99 L199.00,182.99 L199.50,182.99 L200.00,182.99 L200.50,182.99 L201.00,182.99 L201.50,182.98 L202.00,182.98 L202.50,182.98 L203.00,182.98 L203.50,182.98 L204.00,182.98 L204.50,182.98 L205.00,182.98 L205.50,182.98 L206.00,182.98 L206.50,182.98 L207.00,182.98 L207.50,182.98 L208.00,182.98 L208.50,182.98 L209.00,182.98 L209.50,182.98 L210.00,182.98 L210.50,182.98 L211.00,182.98 L211.50,182.98 L212.00,182.98 L212.50,182.98 L213.00,182.98 L213.50,182.98 L214.00,182.98 L214.50,182.97 L215.00,182.97 L215.50,182.97 L216.00,182.97 L216.50,182.96 L217.00,182.96 L217.50,182.96 L218.00,182.95 L218.50,182.95 L219.00,182.95 L219.50,182.94 L220.00,182.94 L220.50,182.93 L221.00,182.92 L221.50,182.92 L222.00,182.91 L222.50,182.90 L223.00,182.90 L223.50,182.89 L224.00,182.88 L224.50,182.87 L225.00,182.86 L225.50,182.85 L226.00,182.84 L226.50,182.83 L227.00,182.82 L227.50,182.81 L228.00,182.79 L228.50,182.78 L229.00,182.77 L229.50,182.75 L230.00,182.74 L230.50,182.72 L231.00,182.70 L231.50,182.69 L232.00,182.67 L232.50,182.65 L233.00,182.63 L233.50,182.61 L234.00,182.59 L234.50,182.57 L235.00,182.55 L235.50,182.52 L236.00,182.50 L236.50,182.48 L237.00,182.45 L237.50,182.42 L238.00,182.40 L238.50,182.37 L239.00,182.34 L239.50,182.31 L240.00,182.28 L240.50,182.25 L241.00,182.22 L241.50,182.18 L242.00,182.15 L242.50,182.11 L243.00,182.08 L243.50,182.04 L244.00,182.00 L244.50,181.96 L245.00,181.92 L245.50,181.88 L246.00,181.84 L246.50,181.79 L247.00,181.75 L247.50,181.70 L248.00,181.66 L248.50,181.61 L249.00,181.56 L249.50,181.51 L250.00,181.46 L250.50,181.41 L251.00,181.36 L251.50,181.30 L252.00,181.25 L252.50,181.19 L253.00,181.14 L253.50,181.08 L254.00,181.02 L254.50,180.96 L255.00,180.90 L255.50,180.84 L256.00,180.78 L256.50,180.72 L257.00,180.65 L257.50,180.59 L258.00,180.52 L258.50,180.45 L259.00,180.39 L259.50,180.32 L260.00,180.25 L260.50,180.18 L261.00,180.10 L261.50,180.03 L262.00,179.96 L262.50,179.88 L263.00,179.81 L263.50,179.73 L264.00,179.65 L264.50,179.57 L265.00,179.50 L265.50,179.42 L266.00,179.33 L266.50,179.25 L267.00,179.17 L267.50,179.08 L268.00,179.00 L268.50,178.91 L269.00,178.83 L269.50,178.74 L270.00,178.65 L270.50,178.56 L271.00,178.47 L271.50,178.38 L272.00,178.28 L272.50,178.19 L273.00,178.09 L273.50,177.99 L274.00,177.90 L274.50,177.79 L275.00,177.69 L275.50,177.59 L276.00,177.48 L276.50,177.37 L277.00,177.27 L277.50,177.15 L278.00,177.04 L278.50,176.93 L279.00,176.81 L279.50,176.69 L280.00,176.57 L280.50,176.45 L281.00,176.32 L281.50,176.19 L282.00,176.06 L282.50,175.93 L283.00,175.80 L283.50,175.66 L284.00,175.52 L284.50,175.38 L285.00,175.23 L285.50,175.08 L286.00,174.93 L286.50,174.78 L287.00,174.62 L287.50,174.47 L288.00,174.30 L288.50,174.14 L289.00,173.97 L289.50,173.80 L290.00,173.63 L290.50,173.45 L291.00,173.27 L291.50,173.09 L292.00,172.90 L292.50,172.71 L293.00,172.52 L293.50,172.32 L294.00,172.12 L294.50,171.92 L295.00,171.71 L295.50,171.50 L296.00,171.29 L296.50,171.08 L297.00,170.86 L297.50,170.64 L298.00,170.42 L298.50,170.20 L299.00,169.97 L299.50,169.74 L300.00,169.51 L300.50,169.28 L301.00,169.04 L301.50,168.81 L302.00,168.57 L302.50,168.33 L303.00,168.09 L303.50,167.85 L304.00,167.60 L304.50,167.36 L305.00,167.11 L305.50,166.86 L306.00,166.61 L306.50,166.35 L307.00,166.09 L307.50,165.83 L308.00,165.56 L308.50,165.29 L309.00,165.01 L309.50,164.72 L310.00,164.43 L310.50,164.13 L311.00,163.83 L311.50,163.52 L312.00,163.19 L312.50,162.86 L313.00,162.53 L313.50,162.18 L314.00,161.82 L314.50,161.45 L315.00,161.07 L315.50,160.68 L316.00,160.28 L316.50,159.86 L317.00,159.44 L317.50,159.01 L318.00,158.57 L318.50,158.12 L319.00,157.66 L319.50,157.20 L320.00,156.74 L320.50,156.27 L321.00,155.80 L321.50,155.33 L322.00,154.86 L322.50,154.39 L323.00,153.92 L323.50,153.45 L324.00,152.99 L324.50,152.53 L325.00,152.07 L325.50,151.63 L326.00,151.19 L326.50,150.75 L327.00,150.33 L327.50,149.92 L328.00,149.52 L328.50,149.12 L329.00,148.73 L329.50,148.33 L330.00,147.94 L330.50,147.53 L331.00,147.12 L331.50,146.69 L332.00,146.24 L332.50,145.78 L333.00,145.30 L333.50,144.80 L334.00,144.28 L334.50,143.74 L335.00,143.17 L335.50,142.58 L336.00,141.95 L336.50,141.30 L337.00,140.62 L337.50,139.90 L338.00,139.15 L338.50,138.36 L339.00,137.54 L339.50,136.68 L340.00,135.78 L340.50,134.86 L341.00,133.91 L341.50,132.95 L342.00,131.99 L342.50,131.03 L343.00,130.08 L343.50,129.15 L344.00,128.24 L344.50,127.36 L345.00,126.50 L345.50,125.67 L346.00,124.85 L346.50,124.04 L347.00,123.25 L347.50,122.46 L348.00,121.68 L348.50,120.90 L349.00,120.11 L349.50,119.32 L350.00,118.52 L350.50,117.70 L351.00,116.87 L351.50,116.03 L352.00,115.17 L352.50,114.30 L353.00,113.40 L353.50,112.49 L354.00,111.56 L354.50,110.61 L355.00,109.64 L355.50,108.64 L356.00,107.62 L356.50,106.58 L357.00,105.51 L357.50,104.42 L358.00,103.30 L358.50,102.16 L359.00,101.01 L359.50,99.83 L360.00,98.63 L360.50,97.42 L361.00,96.19 L361.50,94.95 L362.00,93.69 L362.50,92.42 L363.00,91.14 L363.50,89.85 L364.00,88.55 L364.50,87.25 L365.00,85.93 L365.50,84.61 L366.00,83.29 L366.50,81.96 L367.00,80.63 L367.50,79.30 L368.00,77.98 L368.50,76.66 L369.00,75.35 L369.50,74.05 L370.00,72.77 L370.50,71.51 L371.00,70.27 L371.50,69.06 L372.00,67.88 L372.50,66.73 L373.00,65.60 L373.50,64.50 L374.00,63.43 L374.50,62.40 L375.00,61.40 L375.50,60.44 L376.00,59.52 L376.50,58.65 L377.00,57.82 L377.50,57.02 L378.00,56.25 L378.50,55.51 L379.00,54.78 L379.50,54.07 L380.00,53.36 L380.50,52.66 L381.00,51.98 L381.50,51.35 L382.00,50.76 L382.50,50.26 L383.00,49.84 L383.50,49.53 L384.00,49.34 L384.50,49.30 L385.00,49.41 L385.50,49.67 L386.00,50.08 L386.50,50.65 L387.00,51.39 L387.50,52.28 L388.00,53.33 L388.50,54.55 L389.00,55.98 L389.50,57.70 L390.00,59.76 L390.50,62.23 L391.00,64.81 L391.50,66.98 L392.00,69.66 L392.50,76.57 L393.00,84.46 L393.50,89.50" fill="none" stroke="#ff0000" stroke-width="2.3" stroke-linejoin="round" stroke-linecap="butt"/>
<path d="M53.50,184.20 L54.00,184.20 L54.50,184.20 L55.00,184.20 L55.50,184.20 L56.00,184.20 L56.50,184.20 L57.00,184.20 L57.50,184.20 L58.00,184.20 L58.50,184.20 L59.00,184.20 L59.50,184.20 L60.00,184.20 L60.50,184.20 L61.00,184.20 L61.50,184.20 L62.00,184.20 L62.50,184.20 L63.00,184.20 L63.50,184.20 L64.00,184.20 L64.50,184.20 L65.00,184.20 L65.50,184.20 L66.00,184.20 L66.50,184.20 L67.00,184.20 L67.50,184.20 L68.00,184.20 L68.50,184.20 L69.00,184.21 L69.50,184.21 L70.00,184.21 L70.50,184.21 L71.00,184.21 L71.50,184.21 L72.00,184.21 L72.50,184.21 L73.00,184.21 L73.50,184.21 L74.00,184.21 L74.50,184.21 L75.00,184.21 L75.50,184.21 L76.00,184.21 L76.50,184.21 L77.00,184.21 L77.50,184.21 L78.00,184.21 L78.50,184.21 L79.00,184.21 L79.50,184.21 L80.00,184.21 L80.50,184.21 L81.00,184.21 L81.50,184.21 L82.00,184.21 L82.50,184.21 L83.00,184.21 L83.50,184.21 L84.00,184.21 L84.50,184.21 L85.00,184.21 L85.50,184.21 L86.00,184.21 L86.50,184.21 L87.00,184.21 L87.50,184.21 L88.00,184.21 L88.50,184.21 L89.00,184.21 L89.50,184.21 L90.00,184.21 L90.50,184.20 L91.00,184.20 L91.50,184.20 L92.00,184.20 L92.50,184.20 L93.00,184.20 L93.50,184.20 L94.00,184.20 L94.50,184.20 L95.00,184.20 L95.50,184.20 L96.00,184.20 L96.50,184.20 L97.00,184.20 L97.50,184.20 L98.00,184.20 L98.50,184.20 L99.00,184.20 L99.50,184.20 L100.00,184.20 L100.50,184.20 L101.00,184.20 L101.50,184.20 L102.00,184.20 L102.50,184.20 L103.00,184.20 L103.50,184.20 L104.00,184.20 L104.50,184.20 L105.00,184.20 L105.50,184.20 L106.00,184.19 L106.50,184.19 L107.00,184.19 L107.50,184.19 L108.00,184.19 L108.50,184.19 L109.00,184.19 L109.50,184.19 L110.00,184.19 L110.50,184.19 L111.00,184.19 L111.50,184.19 L112.00,184.19 L112.50,184.19 L113.00,184.19 L113.50,184.19 L114.00,184.19 L114.50,184.19 L115.00,184.19 L115.50,184.19 L116.00,184.19 L116.50,184.19 L117.00,184.18 L117.50,184.18 L118.00,184.18 L118.50,184.18 L119.00,184.18 L119.50,184.18 L120.00,184.18 L120.50,184.18 L121.00,184.18 L121.50,184.18 L122.00,184.18 L122.50,184.18 L123.00,184.18 L123.50,184.18 L124.00,184.18 L124.50,184.18 L125.00,184.18 L125.50,184.18 L126.00,184.18 L126.50,184.18 L127.00,184.18 L127.50,184.18 L128.00,184.18 L128.50,184.18 L129.00,184.18 L129.50,184.18 L130.00,184.18 L130.50,184.18 L131.00,184.18 L131.50,184.18 L132.00,184.18 L132.50,184.18 L133.00,184.18 L133.50,184.18 L134.00,184.18 L134.50,184.18 L135.00,184.18 L135.50,184.18 L136.00,184.18 L136.50,184.18 L137.00,184.18 L137.50,184.18 L138.00,184.18 L138.50,184.18 L139.00,184.18 L139.50,184.18 L140.00,184.18 L140.50,184.19 L141.00,184.19 L141.50,184.19 L142.00,184.19 L142.50,184.19 L143.00,184.19 L143.50,184.19 L144.00,184.19 L144.50,184.19 L145.00,184.19 L145.50,184.19 L146.00,184.20 L146.50,184.20 L147.00,184.20 L147.50,184.20 L148.00,184.20 L148.50,184.20 L149.00,184.20 L149.50,184.20 L150.00,184.21 L150.50,184.21 L151.00,184.21 L151.50,184.21 L152.00,184.21 L152.50,184.21 L153.00,184.22 L153.50,184.22 L154.00,184.22 L154.50,184.22 L155.00,184.22 L155.50,184.22 L156.00,184.23 L156.50,184.23 L157.00,184.23 L157.50,184.23 L158.00,184.23 L158.50,184.24 L159.00,184.24 L159.50,184.24 L160.00,184.24 L160.50,184.25 L161.00,184.25 L161.50,184.25 L162.00,184.25 L162.50,184.26 L163.00,184.26 L163.50,184.26 L164.00,184.26 L164.50,184.27 L165.00,184.27 L165.50,184.27 L166.00,184.27 L166.50,184.28 L167.00,184.28 L167.50,184.28 L168.00,184.29 L168.50,184.29 L169.00,184.29 L169.50,184.30 L170.00,184.30 L170.50,184.30 L171.00,184.30 L171.50,184.31 L172.00,184.31 L172.50,184.31 L173.00,184.32 L173.50,184.32 L174.00,184.32 L174.50,184.33 L175.00,184.33 L175.50,184.33 L176.00,184.34 L176.50,184.34 L177.00,184.35 L177.50,184.35 L178.00,184.35 L178.50,184.36 L179.00,184.36 L179.50,184.36 L180.00,184.37 L180.50,184.37 L181.00,184.37 L181.50,184.38 L182.00,184.38 L182.50,184.39 L183.00,184.39 L183.50,184.39 L184.00,184.40 L184.50,184.40 L185.00,184.41 L185.50,184.41 L186.00,184.41 L186.50,184.42 L187.00,184.42 L187.50,184.43 L188.00,184.43 L188.50,184.43 L189.00,184.44 L189.50,184.44 L190.00,184.45 L190.50,184.45 L191.00,184.46 L191.50,184.46 L192.00,184.46 L192.50,184.47 L193.00,184.47 L193.50,184.48 L194.00,184.48 L194.50,184.49 L195.00,184.49 L195.50,184.50 L196.00,184.50 L196.50,184.50 L197.00,184.51 L197.50,184.51 L198.00,184.52 L198.50,184.52 L199.00,184.53 L199.50,184.53 L200.00,184.54 L200.50,184.54 L201.00,184.55 L201.50,184.55 L202.00,184.56 L202.50,184.56 L203.00,184.56 L203.50,184.57 L204.00,184.57 L204.50,184.58 L205.00,184.58 L205.50,184.59 L206.00,184.59 L206.50,184.59 L207.00,184.60 L207.50,184.60 L208.00,184.61 L208.50,184.61 L209.00,184.62 L209.50,184.62 L210.00,184.62 L210.50,184.63 L211.00,184.63 L211.50,184.63 L212.00,184.64 L212.50,184.64 L213.00,184.65 L213.50,184.65 L214.00,184.65 L214.50,184.65 L215.00,184.66 L215.50,184.66 L216.00,184.66 L216.50,184.67 L217.00,184.67 L217.50,184.67 L218.00,184.67 L218.50,184.68 L219.00,184.68 L219.50,184.68 L220.00,184.68 L220.50,184.68 L221.00,184.69 L221.50,184.69 L222.00,184.69 L222.50,184.69 L223.00,184.69 L223.50,184.69 L224.00,184.69 L224.50,184.69 L225.00,184.69 L225.50,184.69 L226.00,184.69 L226.50,184.69 L227.00,184.69 L227.50,184.69 L228.00,184.69 L228.50,184.69 L229.00,184.69 L229.50,184.69 L230.00,184.69 L230.50,184.68 L231.00,184.68 L231.50,184.68 L232.00,184.68 L232.50,184.68 L233.00,184.67 L233.50,184.67 L234.00,184.67 L234.50,184.66 L235.00,184.66 L235.50,184.66 L236.00,184.65 L236.50,184.65 L237.00,184.64 L237.50,184.64 L238.00,184.63 L238.50,184.63 L239.00,184.62 L239.50,184.62 L240.00,184.61 L240.50,184.60 L241.00,184.60 L241.50,184.59 L242.00,184.58 L242.50,184.57 L243.00,184.57 L243.50,184.56 L244.00,184.55 L244.50,184.54 L245.00,184.53 L245.50,184.52 L246.00,184.51 L246.50,184.50 L247.00,184.49 L247.50,184.48 L248.00,184.47 L248.50,184.46 L249.00,184.45 L249.50,184.43 L250.00,184.42 L250.50,184.41 L251.00,184.39 L251.50,184.38 L252.00,184.36 L252.50,184.35 L253.00,184.33 L253.50,184.31 L254.00,184.30 L254.50,184.28 L255.00,184.26 L255.50,184.24 L256.00,184.22 L256.50,184.20 L257.00,184.17 L257.50,184.15 L258.00,184.13 L258.50,184.10 L259.00,184.08 L259.50,184.05 L260.00,184.02 L260.50,183.99 L261.00,183.97 L261.50,183.94 L262.00,183.90 L262.50,183.87 L263.00,183.84 L263.50,183.81 L264.00,183.77 L264.50,183.73 L265.00,183.70 L265.50,183.66 L266.00,183.62 L266.50,183.58 L267.00,183.54 L267.50,183.49 L268.00,183.45 L268.50,183.40 L269.00,183.36 L269.50,183.31 L270.00,183.26 L270.50,183.21 L271.00,183.16 L271.50,183.10 L272.00,183.05 L272.50,182.99 L273.00,182.93 L273.50,182.87 L274.00,182.81 L274.50,182.74 L275.00,182.68 L275.50,182.61 L276.00,182.54 L276.50,182.47 L277.00,182.39 L277.50,182.31 L278.00,182.23 L278.50,182.15 L279.00,182.07 L279.50,181.98 L280.00,181.89 L280.50,181.80 L281.00,181.70 L281.50,181.60 L282.00,181.50 L282.50,181.40 L283.00,181.29 L283.50,181.18 L284.00,181.07 L284.50,180.96 L285.00,180.84 L285.50,180.71 L286.00,180.59 L286.50,180.46 L287.00,180.33 L287.50,180.19 L288.00,180.05 L288.50,179.91 L289.00,179.76 L289.50,179.61 L290.00,179.46 L290.50,179.30 L291.00,179.14 L291.50,178.97 L292.00,178.80 L292.50,178.63 L293.00,178.45 L293.50,178.26 L294.00,178.08 L294.50,177.89 L295.00,177.69 L295.50,177.49 L296.00,177.29 L296.50,177.08 L297.00,176.87 L297.50,176.66 L298.00,176.44 L298.50,176.22 L299.00,175.99 L299.50,175.76 L300.00,175.52 L300.50,175.28 L301.00,175.04 L301.50,174.79 L302.00,174.54 L302.50,174.28 L303.00,174.02 L303.50,173.76 L304.00,173.49 L304.50,173.22 L305.00,172.94 L305.50,172.66 L306.00,172.38 L306.50,172.09 L307.00,171.80 L307.50,171.50 L308.00,171.19 L308.50,170.88 L309.00,170.57 L309.50,170.25 L310.00,169.93 L310.50,169.60 L311.00,169.26 L311.50,168.92 L312.00,168.58 L312.50,168.22 L313.00,167.86 L313.50,167.50 L314.00,167.13 L314.50,166.75 L315.00,166.37 L315.50,165.98 L316.00,165.58 L316.50,165.18 L317.00,164.77 L317.50,164.35 L318.00,163.93 L318.50,163.50 L319.00,163.06 L319.50,162.62 L320.00,162.17 L320.50,161.71 L321.00,161.25 L321.50,160.78 L322.00,160.30 L322.50,159.81 L323.00,159.32 L323.50,158.82 L324.00,158.32 L324.50,157.81 L325.00,157.29 L325.50,156.76 L326.00,156.23 L326.50,155.69 L327.00,155.14 L327.50,154.59 L328.00,154.03 L328.50,153.46 L329.00,152.89 L329.50,152.32 L330.00,151.74 L330.50,151.16 L331.00,150.58 L331.50,150.00 L332.00,149.42 L332.50,148.84 L333.00,148.25 L333.50,147.65 L334.00,147.04 L334.50,146.42 L335.00,145.77 L335.50,145.09 L336.00,144.39 L336.50,143.66 L337.00,142.89 L337.50,142.09 L338.00,141.24 L338.50,140.34 L339.00,139.39 L339.50,138.39 L340.00,137.34 L340.50,136.25 L341.00,135.13 L341.50,133.98 L342.00,132.81 L342.50,131.64 L343.00,130.46 L343.50,129.29 L344.00,128.14 L344.50,127.01 L345.00,125.90 L345.50,124.80 L346.00,123.73 L346.50,122.66 L347.00,121.61 L347.50,120.57 L348.00,119.54 L348.50,118.52 L349.00,117.51 L349.50,116.50 L350.00,115.50 L350.50,114.50 L351.00,113.50 L351.50,112.50 L352.00,111.49 L352.50,110.49 L353.00,109.48 L353.50,108.46 L354.00,107.43 L354.50,106.40 L355.00,105.35 L355.50,104.29 L356.00,103.22 L356.50,102.13 L357.00,101.02 L357.50,99.89 L358.00,98.75 L358.50,97.58 L359.00,96.39 L359.50,95.17 L360.00,93.93 L360.50,92.66 L361.00,91.36 L361.50,90.03 L362.00,88.67 L362.50,87.27 L363.00,85.84 L363.50,84.37 L364.00,82.86 L364.50,81.31 L365.00,79.73 L365.50,78.10 L366.00,76.45 L366.50,74.78 L367.00,73.11 L367.50,71.43 L368.00,69.75 L368.50,68.10 L369.00,66.46 L369.50,64.86 L370.00,63.30 L370.50,61.78 L371.00,60.33 L371.50,58.94 L372.00,57.62 L372.50,56.38 L373.00,55.24 L373.50,54.20 L374.00,53.25 L374.50,52.37 L375.00,51.50 L375.50,50.59 L376.00,49.63 L376.50,48.64 L377.00,47.62 L377.50,46.59 L378.00,45.55 L378.50,44.52 L379.00,43.50 L379.50,42.50 L380.00,41.54 L380.50,40.62 L381.00,39.76 L381.50,38.97 L382.00,38.26 L382.50,37.64 L383.00,37.13 L383.50,36.73 L384.00,36.45 L384.50,36.31 L385.00,36.32 L385.50,36.49 L386.00,36.80 L386.50,37.25 L387.00,37.84 L387.50,38.56 L388.00,39.41 L388.50,40.38 L389.00,41.47 L389.50,42.71 L390.00,44.17 L390.50,45.91 L391.00,47.99 L391.50,50.30 L392.00,53.04 L392.50,58.10 L393.00,64.90 L393.50,69.50" fill="none" stroke="#ffa500" stroke-width="2.3" stroke-linejoin="round" stroke-linecap="butt"/>
<path d="M53.50,184.35 L54.00,184.35 L54.50,184.35 L55.00,184.35 L55.50,184.35 L56.00,184.34 L56.50,184.34 L57.00,184.34 L57.50,184.34 L58.00,184.34 L58.50,184.34 L59.00,184.34 L59.50,184.34 L60.00,184.34 L60.50,184.33 L61.00,184.33 L61.50,184.33 L62.00,184.33 L62.50,184.33 L63.00,184.33 L63.50,184.33 L64.00,184.33 L64.50,184.33 L65.00,184.33 L65.50,184.32 L66.00,184.32 L66.50,184.32 L67.00,184.32 L67.50,184.32 L68.00,184.32 L68.50,184.32 L69.00,184.32 L69.50,184.32 L70.00,184.31 L70.50,184.31 L71.00,184.31 L71.50,184.31 L72.00,184.31 L72.50,184.31 L73.00,184.31 L73.50,184.31 L74.00,184.31 L74.50,184.30 L75.00,184.30 L75.50,184.30 L76.00,184.30 L76.50,184.30 L77.00,184.30 L77.50,184.30 L78.00,184.30 L78.50,184.30 L79.00,184.30 L79.50,184.29 L80.00,184.29 L80.50,184.29 L81.00,184.29 L81.50,184.29 L82.00,184.29 L82.50,184.29 L83.00,184.29 L83.50,184.29 L84.00,184.28 L84.50,184.28 L85.00,184.28 L85.50,184.28 L86.00,184.28 L86.50,184.28 L87.00,184.28 L87.50,184.28 L88.00,184.28 L88.50,184.27 L89.00,184.27 L89.50,184.27 L90.00,184.27 L90.50,184.27 L91.00,184.27 L91.50,184.27 L92.00,184.27 L92.50,184.27 L93.00,184.27 L93.50,184.26 L94.00,184.26 L94.50,184.26 L95.00,184.26 L95.50,184.26 L96.00,184.26 L96.50,184.26 L97.00,184.26 L97.50,184.26 L98.00,184.25 L98.50,184.25 L99.00,184.25 L99.50,184.25 L100.00,184.25 L100.50,184.25 L101.00,184.25 L101.50,184.25 L102.00,184.25 L102.50,184.24 L103.00,184.24 L103.50,184.24 L104.00,184.24 L104.50,184.24 L105.00,184.24 L105.50,184.24 L106.00,184.24 L106.50,184.24 L107.00,184.24 L107.50,184.23 L108.00,184.23 L108.50,184.23 L109.00,184.23 L109.50,184.23 L110.00,184.23 L110.50,184.23 L111.00,184.23 L111.50,184.23 L112.00,184.23 L112.50,184.23 L113.00,184.22 L113.50,184.22 L114.00,184.22 L114.50,184.22 L115.00,184.22 L115.50,184.22 L116.00,184.22 L116.50,184.22 L117.00,184.22 L117.50,184.22 L118.00,184.22 L118.50,184.22 L119.00,184.22 L119.50,184.22 L120.00,184.22 L120.50,184.22 L121.00,184.22 L121.50,184.22 L122.00,184.22 L122.50,184.22 L123.00,184.22 L123.50,184.22 L124.00,184.22 L124.50,184.22 L125.00,184.22 L125.50,184.22 L126.00,184.22 L126.50,184.22 L127.00,184.22 L127.50,184.22 L128.00,184.22 L128.50,184.22 L129.00,184.22 L129.50,184.22 L130.00,184.22 L130.50,184.22 L131.00,184.22 L131.50,184.23 L132.00,184.23 L132.50,184.23 L133.00,184.23 L133.50,184.23 L134.00,184.23 L134.50,184.23 L135.00,184.23 L135.50,184.24 L136.00,184.24 L136.50,184.24 L137.00,184.24 L137.50,184.24 L138.00,184.24 L138.50,184.25 L139.00,184.25 L139.50,184.25 L140.00,184.25 L140.50,184.25 L141.00,184.26 L141.50,184.26 L142.00,184.26 L142.50,184.26 L143.00,184.27 L143.50,184.27 L144.00,184.27 L144.50,184.28 L145.00,184.28 L145.50,184.28 L146.00,184.29 L146.50,184.29 L147.00,184.29 L147.50,184.30 L148.00,184.30 L148.50,184.30 L149.00,184.31 L149.50,184.31 L150.00,184.32 L150.50,184.32 L151.00,184.32 L151.50,184.33 L152.00,184.33 L152.50,184.34 L153.00,184.34 L153.50,184.35 L154.00,184.35 L154.50,184.36 L155.00,184.36 L155.50,184.37 L156.00,184.37 L156.50,184.38 L157.00,184.38 L157.50,184.39 L158.00,184.40 L158.50,184.40 L159.00,184.41 L159.50,184.41 L160.00,184.42 L160.50,184.43 L161.00,184.43 L161.50,184.44 L162.00,184.45 L162.50,184.45 L163.00,184.46 L163.50,184.47 L164.00,184.47 L164.50,184.48 L165.00,184.49 L165.50,184.50 L166.00,184.50 L166.50,184.51 L167.00,184.52 L167.50,184.53 L168.00,184.54 L168.50,184.54 L169.00,184.55 L169.50,184.56 L170.00,184.57 L170.50,184.58 L171.00,184.59 L171.50,184.60 L172.00,184.60 L172.50,184.61 L173.00,184.62 L173.50,184.63 L174.00,184.64 L174.50,184.65 L175.00,184.66 L175.50,184.67 L176.00,184.68 L176.50,184.69 L177.00,184.70 L177.50,184.71 L178.00,184.72 L178.50,184.73 L179.00,184.75 L179.50,184.76 L180.00,184.77 L180.50,184.78 L181.00,184.79 L181.50,184.80 L182.00,184.81 L182.50,184.83 L183.00,184.84 L183.50,184.85 L184.00,184.86 L184.50,184.87 L185.00,184.89 L185.50,184.90 L186.00,184.91 L186.50,184.93 L187.00,184.94 L187.50,184.95 L188.00,184.97 L188.50,184.98 L189.00,184.99 L189.50,185.01 L190.00,185.02 L190.50,185.03 L191.00,185.05 L191.50,185.06 L192.00,185.08 L192.50,185.09 L193.00,185.11 L193.50,185.12 L194.00,185.14 L194.50,185.15 L195.00,185.17 L195.50,185.18 L196.00,185.20 L196.50,185.22 L197.00,185.23 L197.50,185.25 L198.00,185.26 L198.50,185.28 L199.00,185.30 L199.50,185.31 L200.00,185.33 L200.50,185.35 L201.00,185.37 L201.50,185.38 L202.00,185.40 L202.50,185.42 L203.00,185.44 L203.50,185.45 L204.00,185.47 L204.50,185.49 L205.00,185.51 L205.50,185.52 L206.00,185.54 L206.50,185.56 L207.00,185.58 L207.50,185.60 L208.00,185.62 L208.50,185.64 L209.00,185.65 L209.50,185.67 L210.00,185.69 L210.50,185.71 L211.00,185.73 L211.50,185.75 L212.00,185.77 L212.50,185.79 L213.00,185.81 L213.50,185.82 L214.00,185.84 L214.50,185.86 L215.00,185.88 L215.50,185.90 L216.00,185.92 L216.50,185.94 L217.00,185.96 L217.50,185.98 L218.00,186.00 L218.50,186.02 L219.00,186.04 L219.50,186.06 L220.00,186.08 L220.50,186.10 L221.00,186.12 L221.50,186.13 L222.00,186.15 L222.50,186.17 L223.00,186.19 L223.50,186.21 L224.00,186.23 L224.50,186.25 L225.00,186.27 L225.50,186.29 L226.00,186.31 L226.50,186.33 L227.00,186.35 L227.50,186.37 L228.00,186.39 L228.50,186.40 L229.00,186.42 L229.50,186.44 L230.00,186.46 L230.50,186.48 L231.00,186.50 L231.50,186.52 L232.00,186.54 L232.50,186.55 L233.00,186.57 L233.50,186.59 L234.00,186.61 L234.50,186.63 L235.00,186.65 L235.50,186.66 L236.00,186.68 L236.50,186.70 L237.00,186.72 L237.50,186.73 L238.00,186.75 L238.50,186.77 L239.00,186.79 L239.50,186.80 L240.00,186.82 L240.50,186.84 L241.00,186.85 L241.50,186.87 L242.00,186.89 L242.50,186.90 L243.00,186.92 L243.50,186.93 L244.00,186.95 L244.50,186.97 L245.00,186.98 L245.50,187.00 L246.00,187.01 L246.50,187.03 L247.00,187.04 L247.50,187.05 L248.00,187.07 L248.50,187.08 L249.00,187.09 L249.50,187.11 L250.00,187.12 L250.50,187.13 L251.00,187.14 L251.50,187.15 L252.00,187.16 L252.50,187.17 L253.00,187.17 L253.50,187.18 L254.00,187.19 L254.50,187.19 L255.00,187.19 L255.50,187.20 L256.00,187.20 L256.50,187.20 L257.00,187.20 L257.50,187.20 L258.00,187.20 L258.50,187.20 L259.00,187.19 L259.50,187.19 L260.00,187.18 L260.50,187.18 L261.00,187.17 L261.50,187.16 L262.00,187.15 L262.50,187.14 L263.00,187.13 L263.50,187.12 L264.00,187.11 L264.50,187.10 L265.00,187.09 L265.50,187.07 L266.00,187.06 L266.50,187.05 L267.00,187.03 L267.50,187.02 L268.00,187.00 L268.50,186.98 L269.00,186.97 L269.50,186.95 L270.00,186.93 L270.50,186.91 L271.00,186.89 L271.50,186.87 L272.00,186.85 L272.50,186.82 L273.00,186.80 L273.50,186.77 L274.00,186.74 L274.50,186.71 L275.00,186.68 L275.50,186.65 L276.00,186.61 L276.50,186.57 L277.00,186.53 L277.50,186.49 L278.00,186.44 L278.50,186.40 L279.00,186.34 L279.50,186.29 L280.00,186.23 L280.50,186.17 L281.00,186.11 L281.50,186.05 L282.00,185.98 L282.50,185.90 L283.00,185.83 L283.50,185.74 L284.00,185.66 L284.50,185.57 L285.00,185.48 L285.50,185.38 L286.00,185.28 L286.50,185.18 L287.00,185.07 L287.50,184.95 L288.00,184.83 L288.50,184.71 L289.00,184.58 L289.50,184.45 L290.00,184.31 L290.50,184.17 L291.00,184.02 L291.50,183.86 L292.00,183.70 L292.50,183.53 L293.00,183.36 L293.50,183.18 L294.00,183.00 L294.50,182.81 L295.00,182.62 L295.50,182.42 L296.00,182.22 L296.50,182.01 L297.00,181.80 L297.50,181.59 L298.00,181.37 L298.50,181.14 L299.00,180.91 L299.50,180.68 L300.00,180.44 L300.50,180.20 L301.00,179.96 L301.50,179.71 L302.00,179.46 L302.50,179.21 L303.00,178.95 L303.50,178.69 L304.00,178.43 L304.50,178.17 L305.00,177.90 L305.50,177.63 L306.00,177.36 L306.50,177.08 L307.00,176.80 L307.50,176.52 L308.00,176.24 L308.50,175.94 L309.00,175.65 L309.50,175.35 L310.00,175.05 L310.50,174.74 L311.00,174.42 L311.50,174.10 L312.00,173.77 L312.50,173.44 L313.00,173.10 L313.50,172.75 L314.00,172.39 L314.50,172.03 L315.00,171.66 L315.50,171.28 L316.00,170.89 L316.50,170.49 L317.00,170.09 L317.50,169.67 L318.00,169.25 L318.50,168.81 L319.00,168.37 L319.50,167.92 L320.00,167.46 L320.50,166.98 L321.00,166.50 L321.50,166.01 L322.00,165.51 L322.50,165.00 L323.00,164.47 L323.50,163.94 L324.00,163.40 L324.50,162.84 L325.00,162.27 L325.50,161.70 L326.00,161.11 L326.50,160.51 L327.00,159.90 L327.50,159.27 L328.00,158.64 L328.50,158.00 L329.00,157.34 L329.50,156.68 L330.00,156.02 L330.50,155.35 L331.00,154.67 L331.50,154.00 L332.00,153.32 L332.50,152.65 L333.00,151.98 L333.50,151.31 L334.00,150.65 L334.50,150.00 L335.00,149.35 L335.50,148.70 L336.00,148.04 L336.50,147.36 L337.00,146.64 L337.50,145.87 L338.00,145.05 L338.50,144.17 L339.00,143.20 L339.50,142.16 L340.00,141.05 L340.50,139.88 L341.00,138.66 L341.50,137.41 L342.00,136.13 L342.50,134.84 L343.00,133.55 L343.50,132.26 L344.00,131.00 L344.50,129.76 L345.00,128.54 L345.50,127.34 L346.00,126.15 L346.50,124.97 L347.00,123.80 L347.50,122.64 L348.00,121.47 L348.50,120.30 L349.00,119.12 L349.50,117.93 L350.00,116.74 L350.50,115.54 L351.00,114.34 L351.50,113.12 L352.00,111.89 L352.50,110.66 L353.00,109.41 L353.50,108.15 L354.00,106.88 L354.50,105.60 L355.00,104.30 L355.50,102.99 L356.00,101.65 L356.50,100.30 L357.00,98.92 L357.50,97.51 L358.00,96.08 L358.50,94.63 L359.00,93.14 L359.50,91.62 L360.00,90.06 L360.50,88.47 L361.00,86.84 L361.50,85.18 L362.00,83.47 L362.50,81.71 L363.00,79.92 L363.50,78.08 L364.00,76.23 L364.50,74.36 L365.00,72.51 L365.50,70.69 L366.00,68.90 L366.50,67.17 L367.00,65.49 L367.50,63.86 L368.00,62.26 L368.50,60.68 L369.00,59.11 L369.50,57.53 L370.00,55.94 L370.50,54.33 L371.00,52.68 L371.50,51.00 L372.00,49.34 L372.50,47.70 L373.00,46.12 L373.50,44.61 L374.00,43.18 L374.50,41.86 L375.00,40.66 L375.50,39.60 L376.00,38.66 L376.50,37.77 L377.00,36.83 L377.50,35.77 L378.00,34.56 L378.50,33.25 L379.00,31.96 L379.50,30.78 L380.00,29.75 L380.50,28.85 L381.00,28.03 L381.50,27.26 L382.00,26.49 L382.50,25.70 L383.00,24.91 L383.50,24.14 L384.00,23.39 L384.50,22.70 L385.00,22.06 L385.50,21.50 L386.00,21.03 L386.50,20.68 L387.00,20.45 L387.50,20.37 L388.00,20.46 L388.50,20.77 L389.00,21.34 L389.50,22.21 L390.00,23.43 L390.50,25.04 L391.00,27.06 L391.50,29.25 L392.00,31.14 L392.50,32.41 L393.00,35.21 L393.50,42.50" fill="none" stroke="#c080ff" stroke-width="2.3" stroke-linejoin="round" stroke-linecap="butt"/>
<rect x="53.5" y="9.5" width="340.0" height="184.7" fill="none" stroke="#000" stroke-width="1"/>
<g class="t" font-size="18" fill="#000">
<text x="229.4" y="30.95" text-anchor="end">Local, l = 10 nm</text>
<text x="229.4" y="50.94" text-anchor="end">Nonlocal, l = 10 nm</text>
<text x="229.4" y="70.93" text-anchor="end">20 nm</text>
<text x="229.4" y="90.92" text-anchor="end">50 nm</text>
<text x="229.4" y="110.91" text-anchor="end">100 nm</text>
<text x="229.4" y="130.90" text-anchor="end">500 nm</text>
<text x="48.0" y="192.35" text-anchor="end" font-size="19.3">0</text>
<text x="48.0" y="142.30" text-anchor="end" font-size="19.3">0.5</text>
<text x="48.0" y="92.25" text-anchor="end" font-size="19.3">1</text>
<text x="48.0" y="42.20" text-anchor="end" font-size="19.3">1.5</text>
<text x="55.70" y="212.2" text-anchor="middle" font-size="19.3">0</text>
<text x="140.70" y="212.2" text-anchor="middle" font-size="19.3">0.25</text>
<text x="225.70" y="212.2" text-anchor="middle" font-size="19.3">0.5</text>
<text x="310.70" y="212.2" text-anchor="middle" font-size="19.3">0.75</text>
<text x="395.70" y="212.2" text-anchor="middle" font-size="19.3">1</text>
<text x="208.5" y="236.8" font-size="20">ρ<tspan dx="1">/R</tspan></text>
<text transform="translate(14.8,155.3) rotate(-90)" font-size="20">J(<tspan dx="0.5">ρ</tspan><tspan dx="-0.25">)</tspan><tspan dx="1">/</tspan><tspan dx="0.25">J</tspan><tspan font-size="16" dy="5" letter-spacing="0.45">local</tspan><tspan dy="-5" dx="-1.2">(</tspan><tspan dx="1.4">R)</tspan></text>
</g>
<path d="M238.6,23.45 H279" stroke="#000" stroke-width="2.3" stroke-dasharray="5.8 8.9" fill="none"/>
<circle cx="258.7" cy="23.45" r="2.7" fill="#000"/>
<path d="M238.6,43.44 H279" stroke="#bebebe" stroke-width="2.3" fill="none"/>
<path d="M238.6,63.42999999999999 H279" stroke="#0000ff" stroke-width="2.3" fill="none"/>
<path d="M238.6,83.42 H279" stroke="#ff0000" stroke-width="2.3" fill="none"/>
<path d="M238.6,103.41 H279" stroke="#ffa500" stroke-width="2.3" fill="none"/>
<path d="M238.6,123.39999999999999 H279" stroke="#c080ff" stroke-width="2.3" fill="none"/>
</svg>
</body></html>
